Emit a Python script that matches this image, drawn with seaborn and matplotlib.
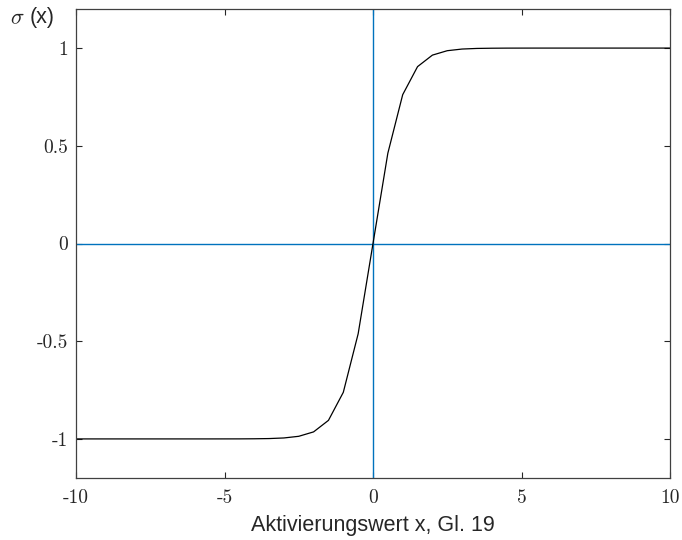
import matplotlib
matplotlib.use("Agg")
import matplotlib.pyplot as plt
import seaborn as sns
import pandas as pd

# Activation input x, sampled every 0.5
x_vals = [-10.0, -9.5, -9.0, -8.5, -8.0, -7.5, -7.0, -6.5, -6.0, -5.5,
          -5.0, -4.5, -4.0, -3.5, -3.0, -2.5, -2.0, -1.5, -1.0, -0.5,
          0.0, 0.5, 1.0, 1.5, 2.0, 2.5, 3.0, 3.5, 4.0, 4.5,
          5.0, 5.5, 6.0, 6.5, 7.0, 7.5, 8.0, 8.5, 9.0, 9.5, 10.0]
# Activation output sigma(x)
sigma_vals = [-1.0, -1.0, -1.0, -1.0, -1.0, -1.0, -1.0, -1.0, -1.0, -1.0,
              -0.9999, -0.9998, -0.9993, -0.9982, -0.9951, -0.9866, -0.9640, -0.9051, -0.7616, -0.4621,
              0.0, 0.4621, 0.7616, 0.9051, 0.9640, 0.9866, 0.9951, 0.9982, 0.9993, 0.9998,
              0.9999, 1.0, 1.0, 1.0, 1.0, 1.0, 1.0, 1.0, 1.0, 1.0, 1.0]

x_ticks = [-10, -5, 0, 5, 10]
x_tick_labels = ["-10", "-5", "0", "5", "10"]
y_ticks = [-1, -0.5, 0, 0.5, 1]
y_tick_labels = ["-1", "-0.5", "0", "0.5", "1"]

sns.set_theme(style="white")
plt.rcParams["axes.unicode_minus"] = False
plt.rcParams["mathtext.fontset"] = "cm"

df = pd.DataFrame({"x": x_vals, "sigma": sigma_vals})

fig = plt.figure(figsize=(6.82, 5.40), dpi=100)
ax = fig.add_axes([76 / 682, 1 - 478 / 540, (670 - 76) / 682, (478 - 9) / 540])

blue = "#0072BD"
ax.axhline(0, color=blue, lw=1.0, zorder=1)
ax.axvline(0, color=blue, lw=1.0, zorder=1)
sns.lineplot(data=df, x="x", y="sigma", ax=ax, color="black", lw=0.9,
             zorder=2, estimator=None, sort=False)

ax.set_xlim(-10, 10)
ax.set_ylim(-1.2, 1.2)

ax.set_xticks(x_ticks)
ax.set_xticklabels(x_tick_labels, fontfamily="cmr10", fontsize=14, color="#262626")
ax.set_yticks(y_ticks)
ax.set_yticklabels(y_tick_labels, fontfamily="cmr10", fontsize=14, color="#262626")

ax.tick_params(axis="both", which="both", direction="in", length=4.3, width=0.8,
               color="#262626", top=True, right=True, bottom=True, left=True)
ax.tick_params(axis="x", pad=8)
ax.tick_params(axis="y", pad=5.5)

for side in ["left", "right", "top", "bottom"]:
    ax.spines[side].set_visible(True)
    ax.spines[side].set_color("#404040")
    ax.spines[side].set_linewidth(0.9)

ax.set_xlabel("Aktivierungswert x, Gl. 19", fontfamily="Liberation Sans",
              fontsize=15.5, color="#262626", labelpad=5.5)
ax.set_ylabel("")

fig.text(10 / 682, 1 - 18 / 540, r"$\sigma$", fontsize=16, color="#262626",
         va="center", ha="left")
fig.text(30 / 682, 1 - 18 / 540, "(x)", fontfamily="Liberation Sans", fontsize=15.5,
         color="#262626", va="center", ha="left")

fig.savefig("out.png", dpi=100)
